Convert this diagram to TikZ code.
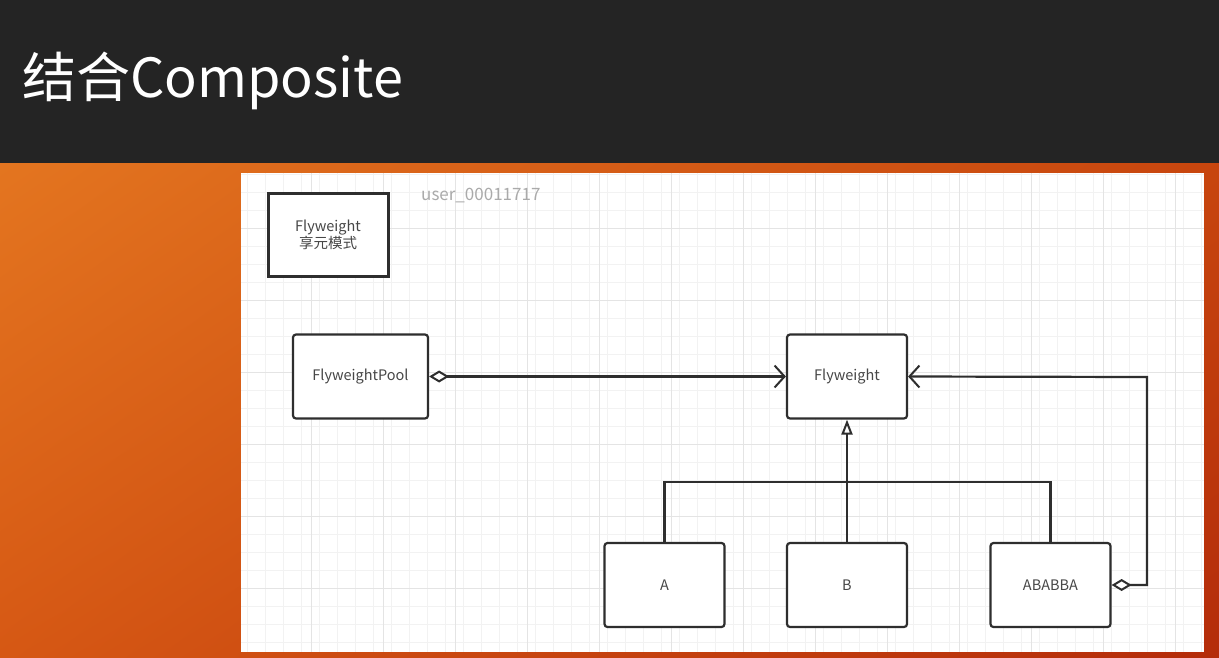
\documentclass[tikz,border=0pt]{standalone}
\usepackage{fontspec}
\setmainfont{Noto Sans CJK SC}
\usetikzlibrary{arrows.meta,shadings}
\definecolor{hdr}{HTML}{242424}
\definecolor{txt}{HTML}{474747}
\definecolor{edge}{HTML}{2E2E2E}
\definecolor{gridminor}{HTML}{F2F2F2}
\definecolor{gridmajor}{HTML}{E4E4E4}
\definecolor{bgul}{RGB}{228,118,32}
\definecolor{bgur}{RGB}{200,70,14}
\definecolor{bgll}{RGB}{214,88,20}
\definecolor{bglr}{RGB}{180,44,10}
\definecolor{wmgray}{RGB}{170,170,170}
\tikzset{
  cls/.style={draw=edge, line width=2.2pt, rounded corners=3pt, fill=white,
    minimum width=120pt, minimum height=84pt, inner sep=0pt,
    text=txt, font=\fontsize{14.5}{16}\selectfont},
  note/.style={draw=edge, line width=3pt, fill=white,
    minimum width=120pt, minimum height=83pt, inner sep=0pt,
    text=txt, font=\fontsize{14.5}{17}\selectfont, align=center},
  conn/.style={draw=edge, line width=2.2pt},
  agg/.style={{Diamond[open, length=20pt, width=12pt, line width=2pt]}-{Straight Barb[length=10pt, width=22pt, line width=2pt]}},
  gen/.style={-{Triangle[open, length=15pt, width=11pt, line width=2pt]}}
}
\begin{document}
\begin{tikzpicture}[x=1pt,y=-1pt]
\useasboundingbox (0,0) rectangle (1219,657);
% orange background
\shade[upper left=bgul, upper right=bgur, lower left=bgll, lower right=bglr]
  (0,150) rectangle (1219,657);
% header
\fill[hdr] (0,0) rectangle (1219,163);
\node[anchor=base west, inner sep=0pt, text=white, font=\fontsize{54}{60}\selectfont] (title) at (22,97) {结合Composite};
% white panel
\fill[white] (241,173) rectangle (1204,652);
\begin{scope}
\clip (241,173) rectangle (1204,652);
\foreach \i in {0,...,54} {
  \draw[gridminor, line width=0.9pt] ({247+18*\i},173) -- ({247+18*\i},652);
}
\foreach \j in {0,...,27} {
  \draw[gridminor, line width=0.9pt] (241,{174+18*\j}) -- (1204,{174+18*\j});
}
\foreach \i in {0,...,14} {
  \draw[gridmajor, line width=1pt] ({239+72*\i},173) -- ({239+72*\i},652);
}
\foreach \j in {0,...,7} {
  \draw[gridmajor, line width=1pt] (241,{156+72*\j}) -- (1204,{156+72*\j});
}
\end{scope}
% watermark
\node[anchor=base west, inner sep=0pt, text=wmgray, font=\fontsize{17}{18}\selectfont] (wm) at (421,200) {user\_00011717};
% nodes
\node[note] (legend) at (328,235) {Flyweight\\享元模式};
\node[cls, minimum width=135pt] (pool) at (360.5,376.5) {FlyweightPool};
\node[cls] (fw) at (847,376.5) {Flyweight};
\node[cls] (a) at (664.5,585) {A};
\node[cls] (b) at (847,585) {B};
\node[cls] (ab) at (1050.5,585) {ABABBA};
\coordinate (ja) at (a.north |- 0,482);
\coordinate (jab) at (ab.north |- 0,482);
\coordinate (rc) at (1147,585);
\coordinate (rt) at (1147,377);
% connectors
\draw[conn, agg] (pool.east) -- (fw.west);
\draw[conn, gen] (b.north) -- (fw.south);
\draw[conn] (a.north) -- (ja) -- (jab) -- (ab.north);
\draw[conn, agg] (ab.east) -- (rc) -- (rt) -- (fw.east);
\end{tikzpicture}
\end{document}
